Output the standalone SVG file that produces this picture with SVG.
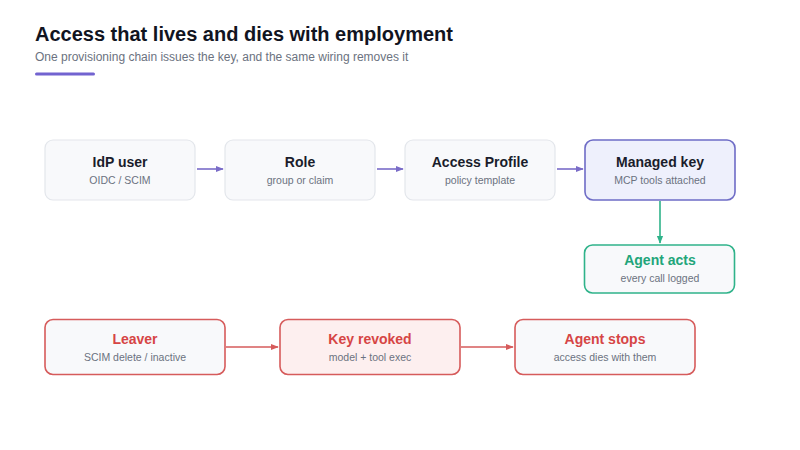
<svg xmlns="http://www.w3.org/2000/svg" width="800" height="450" viewBox="0 0 800 450">
<defs>
<style>
.t{font-family:"Liberation Sans",Arial,sans-serif;font-weight:bold;font-size:14px;text-anchor:middle;fill:#1a1d2b}
.s{font-family:"Liberation Sans",Arial,sans-serif;font-size:10.5px;text-anchor:middle;fill:#6b7280}
.g{fill:#f8f9fb;stroke:#e3e6eb;stroke-width:1.2}
.p{fill:#eef0fc;stroke:#6e6cc6;stroke-width:1.6}
.gr{fill:#f8f9fb;stroke:#2fb38a;stroke-width:1.6}
.r{fill:#f8f9fb;stroke:#d65b5b;stroke-width:1.6}
.rf{fill:#fdefef;stroke:#d65b5b;stroke-width:1.6}
.cp{stroke:#7a6cc8;stroke-width:1.6;fill:none}
.cg{stroke:#2fb38a;stroke-width:1.6;fill:none}
.cr{stroke:#d65b5b;stroke-width:1.6;fill:none}
</style>
<marker id="ap" viewBox="0 0 10 10" refX="9" refY="5" markerWidth="5" markerHeight="5" orient="auto"><path d="M0,1 L10,5 L0,9 z" fill="#7a6cc8"/></marker>
<marker id="ag" viewBox="0 0 10 10" refX="9" refY="5" markerWidth="5" markerHeight="5" orient="auto"><path d="M0,1 L10,5 L0,9 z" fill="#2fb38a"/></marker>
<marker id="ar" viewBox="0 0 10 10" refX="9" refY="5" markerWidth="5" markerHeight="5" orient="auto"><path d="M0,1 L10,5 L0,9 z" fill="#d65b5b"/></marker>
</defs>
<rect width="800" height="450" fill="#ffffff"/>
<g id="header">
<text x="35" y="41" font-family="Liberation Sans,Arial,sans-serif" font-weight="bold" font-size="20" fill="#11141f">Access that lives and dies with employment</text>
<text x="35" y="61" font-family="Liberation Sans,Arial,sans-serif" font-size="12" fill="#6b7280">One provisioning chain issues the key, and the same wiring removes it</text>
<rect x="35" y="72.5" width="60" height="3" rx="1.5" fill="#7263d0"/>
</g>
<g id="connectors">
<line class="cp" x1="197" y1="169" x2="223" y2="169" marker-end="url(#ap)"/>
<line class="cp" x1="377" y1="169" x2="403" y2="169" marker-end="url(#ap)"/>
<line class="cp" x1="557" y1="169" x2="583" y2="169" marker-end="url(#ap)"/>
<line class="cg" x1="660" y1="201" x2="660" y2="243" marker-end="url(#ag)"/>
<line class="cr" x1="226" y1="347" x2="278" y2="347" marker-end="url(#ar)"/>
<line class="cr" x1="461" y1="347" x2="513" y2="347" marker-end="url(#ar)"/>
</g>
<g id="idp">
<rect class="g" x="45" y="140" width="150" height="60" rx="8"/>
<text class="t" x="120" y="167">IdP user</text>
<text class="s" x="120" y="184">OIDC / SCIM</text>
</g>
<g id="role">
<rect class="g" x="225" y="140" width="150" height="60" rx="8"/>
<text class="t" x="300" y="167">Role</text>
<text class="s" x="300" y="184">group or claim</text>
</g>
<g id="profile">
<rect class="g" x="405" y="140" width="150" height="60" rx="8"/>
<text class="t" x="480" y="167">Access Profile</text>
<text class="s" x="480" y="184">policy template</text>
</g>
<g id="key">
<rect class="p" x="585" y="140" width="150" height="60" rx="8"/>
<text class="t" x="660" y="167">Managed key</text>
<text class="s" x="660" y="184">MCP tools attached</text>
</g>
<g id="agent">
<rect class="gr" x="584.5" y="245" width="150" height="48" rx="8"/>
<text class="t" x="660" y="265" style="fill:#22a57a">Agent acts</text>
<text class="s" x="660" y="282">every call logged</text>
</g>
<g id="leaver">
<rect class="r" x="45" y="319.5" width="180" height="55" rx="8"/>
<text class="t" x="135" y="344" style="fill:#d64545">Leaver</text>
<text class="s" x="135" y="361">SCIM delete / inactive</text>
</g>
<g id="revoked">
<rect class="rf" x="280" y="319.5" width="180" height="55" rx="8"/>
<text class="t" x="370" y="344" style="fill:#d64545">Key revoked</text>
<text class="s" x="370" y="361">model + tool exec</text>
</g>
<g id="stops">
<rect class="r" x="515" y="319.5" width="180" height="55" rx="8"/>
<text class="t" x="605" y="344" style="fill:#d64545">Agent stops</text>
<text class="s" x="605" y="361">access dies with them</text>
</g>
</svg>
